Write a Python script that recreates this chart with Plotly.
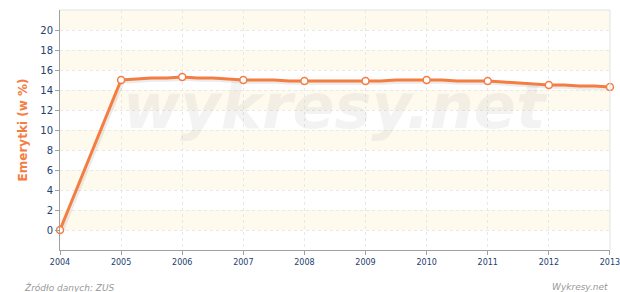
import plotly.graph_objects as go

# quarterly values from 2004 to 2013
values = [0.0,
          15.0, 15.1, 15.2, 15.2,
          15.3, 15.2, 15.2, 15.1,
          15.0, 15.0, 15.0, 14.9,
          14.9, 14.9, 14.9, 14.9,
          14.9, 14.9, 15.0, 15.0,
          15.0, 15.0, 14.9, 14.9,
          14.9, 14.8, 14.7, 14.6,
          14.5, 14.5, 14.4, 14.4,
          14.3]
# first point is 2004, then quarterly from 2005
x_vals = [2004.0] + [2005 + i / 4 for i in range(len(values) - 1)]
marker_years = [2004, 2005, 2006, 2007, 2008, 2009, 2010, 2011, 2012, 2013]
marker_vals = [values[x_vals.index(float(y))] for y in marker_years]
y_ticks = [0, 2, 4, 6, 8, 10, 12, 14, 16, 18, 20]
bands = [(0, 2), (4, 6), (8, 10), (12, 14), (16, 18), (20, 22)]

orange = "#f47d42"
navy = "#23406e"

fig = go.Figure()
# shadow
fig.add_trace(go.Scatter(x=[v + 0.03 for v in x_vals], y=[v - 0.22 for v in values],
                         mode="lines", line=dict(color="rgba(0,0,0,0.08)", width=3),
                         hoverinfo="skip", showlegend=False, cliponaxis=False))
fig.add_trace(go.Scatter(x=x_vals, y=values, mode="lines",
                         line=dict(color=orange, width=3), showlegend=False, cliponaxis=False))
fig.add_trace(go.Scatter(x=marker_years, y=marker_vals, mode="markers",
                         marker=dict(size=7, color="white", line=dict(color=orange, width=1.5)),
                         showlegend=False, cliponaxis=False))

shapes = []
for lo, hi in bands:
    shapes.append(dict(type="rect", xref="paper", yref="y", x0=0, x1=1, y0=lo, y1=hi,
                       fillcolor="#fffaee", line=dict(width=0), layer="below"))
# light frame top/right
shapes.append(dict(type="line", xref="paper", yref="paper", x0=0, x1=1, y0=1, y1=1,
                   line=dict(color="#e2e2e2", width=1)))
shapes.append(dict(type="line", xref="paper", yref="paper", x0=1, x1=1, y0=0, y1=1,
                   line=dict(color="#e2e2e2", width=1)))

fig.update_layout(
    width=620, height=292,
    margin=dict(l=60, r=10, t=10, b=42),
    paper_bgcolor="white", plot_bgcolor="white",
    font=dict(family="DejaVu Sans", size=10, color=navy),
    shapes=shapes,
    xaxis=dict(range=[2004, 2013.001], tickvals=marker_years, ticktext=[str(y) for y in marker_years],
               tickfont=dict(size=8, color=navy), showgrid=True, gridcolor="#e8e8e8",
               griddash="3px,3px", gridwidth=1, showline=True, linecolor="#a0a0a0", linewidth=1,
               ticks="outside", ticklen=4, tickcolor="#a0a0a0", zeroline=False,
               ticklabeloverflow="allow", automargin=False),
    yaxis=dict(range=[-2, 22], tickvals=y_ticks, tickfont=dict(size=10, color=navy),
               showgrid=True, gridcolor="#e8e8e8", griddash="3px,3px", gridwidth=1,
               showline=True, linecolor="#a0a0a0", linewidth=1, ticks="outside",
               ticklen=4, tickcolor="#a0a0a0", zeroline=False, automargin=False,
               title=dict(text="<b>Emerytki (w %)</b>", font=dict(size=12, color=orange,
                                                          family="DejaVu Sans"), standoff=10)),
    annotations=[
        dict(text="<b><i>wykresy.net</i></b>", xref="paper", yref="paper", x=0.5, y=0.60,
             showarrow=False, font=dict(size=62, color="rgba(180,180,180,0.16)", family="DejaVu Sans")),
        dict(text="<i>Źródło danych: ZUS</i>", xref="paper", yref="paper", x=-0.07, y=-0.155,
             xanchor="left", yanchor="middle", showarrow=False,
             font=dict(size=9, color="#999999", family="DejaVu Sans")),
        dict(text="<i>Wykresy.net</i>", xref="paper", yref="paper", x=1.0, y=-0.155,
             xanchor="right", yanchor="middle", showarrow=False,
             font=dict(size=9, color="#999999", family="DejaVu Sans")),
    ],
)
fig.write_html("out.html")
